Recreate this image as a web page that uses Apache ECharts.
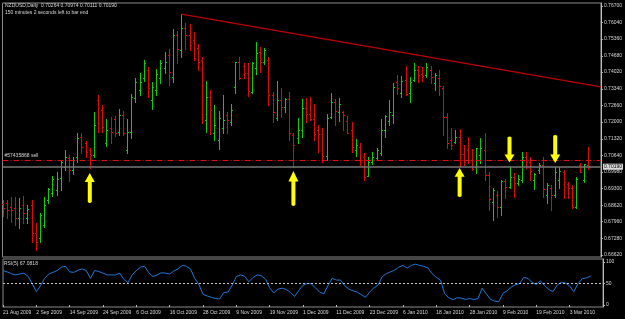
<!DOCTYPE html>
<html><head><meta charset="utf-8">
<script src="https://cdn.jsdelivr.net/npm/echarts@6/dist/echarts.min.js"></script>
<style>html,body{margin:0;padding:0;background:#000;}#c{width:625px;height:319px;}</style>
</head><body><div id="c"></div><script>
const symbolName = 'NZDUSD,Daily';
const timerText = '150 minutes 2 seconds left to bar end';
const dates = ['21 Aug 2009','24 Aug 2009','25 Aug 2009','26 Aug 2009','27 Aug 2009','28 Aug 2009','31 Aug 2009','1 Sep 2009','2 Sep 2009','3 Sep 2009',
'4 Sep 2009','7 Sep 2009','8 Sep 2009','9 Sep 2009','10 Sep 2009','11 Sep 2009','14 Sep 2009','15 Sep 2009','16 Sep 2009','17 Sep 2009',
'18 Sep 2009','21 Sep 2009','22 Sep 2009','23 Sep 2009','24 Sep 2009','25 Sep 2009','28 Sep 2009','29 Sep 2009','30 Sep 2009','1 Oct 2009',
'2 Oct 2009','5 Oct 2009','6 Oct 2009','7 Oct 2009','8 Oct 2009','9 Oct 2009','12 Oct 2009','13 Oct 2009','14 Oct 2009','15 Oct 2009',
'16 Oct 2009','19 Oct 2009','20 Oct 2009','21 Oct 2009','22 Oct 2009','23 Oct 2009','26 Oct 2009','27 Oct 2009','28 Oct 2009','29 Oct 2009',
'30 Oct 2009','2 Nov 2009','3 Nov 2009','4 Nov 2009','5 Nov 2009','6 Nov 2009','9 Nov 2009','10 Nov 2009','11 Nov 2009','12 Nov 2009',
'13 Nov 2009','16 Nov 2009','17 Nov 2009','18 Nov 2009','19 Nov 2009','20 Nov 2009','23 Nov 2009','24 Nov 2009','25 Nov 2009','26 Nov 2009',
'27 Nov 2009','30 Nov 2009','1 Dec 2009','2 Dec 2009','3 Dec 2009','4 Dec 2009','7 Dec 2009','8 Dec 2009','9 Dec 2009','10 Dec 2009',
'11 Dec 2009','14 Dec 2009','15 Dec 2009','16 Dec 2009','17 Dec 2009','18 Dec 2009','21 Dec 2009','22 Dec 2009','23 Dec 2009','24 Dec 2009',
'28 Dec 2009','29 Dec 2009','30 Dec 2009','31 Dec 2009','4 Jan 2010','5 Jan 2010','6 Jan 2010','7 Jan 2010','8 Jan 2010','11 Jan 2010',
'12 Jan 2010','13 Jan 2010','14 Jan 2010','15 Jan 2010','18 Jan 2010','19 Jan 2010','20 Jan 2010','21 Jan 2010','22 Jan 2010','25 Jan 2010',
'26 Jan 2010','27 Jan 2010','28 Jan 2010','29 Jan 2010','1 Feb 2010','2 Feb 2010','3 Feb 2010','4 Feb 2010','5 Feb 2010','8 Feb 2010',
'9 Feb 2010','10 Feb 2010','11 Feb 2010','12 Feb 2010','15 Feb 2010','16 Feb 2010','17 Feb 2010','18 Feb 2010','19 Feb 2010','22 Feb 2010',
'23 Feb 2010','24 Feb 2010','25 Feb 2010','26 Feb 2010','1 Mar 2010','2 Mar 2010','3 Mar 2010','4 Mar 2010','5 Mar 2010','8 Mar 2010',
'9 Mar 2010','10 Mar 2010'];
const futureSlots = ['', '', ''];
const opens = [0.6868,0.6872,0.6856,0.6852,0.6811,0.6864,0.6811,0.6864,0.6750,0.6730,
0.6783,0.6884,0.6912,0.6925,0.6973,0.7018,0.7054,0.7006,0.7058,0.7139,
0.7115,0.7087,0.7066,0.7289,0.7249,0.7115,0.7176,0.7212,0.7159,0.7228,
0.7087,0.7159,0.7297,0.7330,0.7378,0.7411,0.7289,0.7330,0.7378,0.7419,
0.7471,0.7382,0.7552,0.7492,0.7581,0.7552,0.7532,0.7500,0.7451,0.7208,
0.7301,0.7155,0.7127,0.7176,0.7228,0.7200,0.7342,0.7443,0.7427,0.7398,
0.7321,0.7419,0.7483,0.7443,0.7451,0.7309,0.7216,0.7289,0.7261,0.7293,
0.7147,0.7135,0.7167,0.7257,0.7232,0.7212,0.7167,0.7151,0.7062,0.7220,
0.7281,0.7240,0.7240,0.7204,0.7167,0.7087,0.7099,0.7058,0.6981,0.7038,
0.7054,0.7074,0.7167,0.7204,0.7228,0.7362,0.7317,0.7370,0.7317,0.7370,
0.7411,0.7394,0.7390,0.7411,0.7358,0.7378,0.7338,0.7220,0.7127,0.7119,
0.7139,0.7070,0.7087,0.7046,0.7018,0.7066,0.7087,0.6985,0.6876,0.6904,
0.6856,0.6961,0.6937,0.6977,0.6953,0.6965,0.7058,0.7038,0.6965,0.7006,
0.7026,0.6904,0.6933,0.6904,0.6965,0.6997,0.6949,0.6933,0.6856,0.7026,
0.6965,0.70264];
const highs = [0.6884,0.6884,0.6896,0.6896,0.6892,0.6900,0.6864,0.6884,0.6791,0.6831,
0.6896,0.6933,0.6981,0.6997,0.7046,0.7087,0.7066,0.7058,0.7155,0.7155,
0.7123,0.7095,0.7240,0.7309,0.7269,0.7212,0.7220,0.7224,0.7253,0.7244,
0.7212,0.7313,0.7378,0.7398,0.7451,0.7423,0.7362,0.7415,0.7451,0.7483,
0.7496,0.7577,0.7568,0.7637,0.7601,0.7597,0.7564,0.7516,0.7463,0.7366,
0.7330,0.7269,0.7244,0.7309,0.7240,0.7273,0.7443,0.7463,0.7439,0.7439,
0.7443,0.7524,0.7504,0.7500,0.7463,0.7321,0.7366,0.7338,0.7297,0.7321,
0.7155,0.7216,0.7293,0.7297,0.7301,0.7273,0.7188,0.7176,0.7232,0.7317,
0.7293,0.7297,0.7244,0.7224,0.7200,0.7131,0.7115,0.7074,0.7058,0.7078,
0.7095,0.7212,0.7228,0.7289,0.7358,0.7390,0.7386,0.7427,0.7382,0.7439,
0.7427,0.7423,0.7439,0.7427,0.7398,0.7411,0.7346,0.7236,0.7176,0.7167,
0.7172,0.7107,0.7139,0.7091,0.7095,0.7135,0.7155,0.6997,0.6933,0.6921,
0.6965,0.6969,0.7018,0.6993,0.6985,0.7078,0.7078,0.7058,0.6993,0.7034,
0.7058,0.6953,0.6945,0.7018,0.7018,0.7006,0.6957,0.6945,0.6977,0.7034,
0.7030,0.70974];
const lows = [0.6819,0.6811,0.6795,0.6783,0.6771,0.6791,0.6791,0.6714,0.6682,0.6714,
0.6775,0.6872,0.6900,0.6904,0.6925,0.7006,0.6961,0.6989,0.7038,0.7074,
0.7058,0.7014,0.7058,0.7159,0.7159,0.7103,0.7115,0.7143,0.7147,0.7147,
0.7074,0.7135,0.7281,0.7309,0.7366,0.7301,0.7253,0.7309,0.7358,0.7398,
0.7350,0.7362,0.7439,0.7463,0.7496,0.7492,0.7451,0.7411,0.7196,0.7159,
0.7151,0.7127,0.7091,0.7155,0.7155,0.7188,0.7317,0.7374,0.7378,0.7305,
0.7317,0.7394,0.7402,0.7435,0.7269,0.7200,0.7208,0.7220,0.7240,0.7127,
0.7018,0.7115,0.7139,0.7200,0.7208,0.7127,0.7078,0.7038,0.7046,0.7216,
0.7188,0.7204,0.7167,0.7155,0.7078,0.7062,0.7026,0.6965,0.6981,0.7030,
0.7046,0.7066,0.7139,0.7188,0.7196,0.7313,0.7301,0.7309,0.7281,0.7366,
0.7362,0.7366,0.7382,0.7358,0.7330,0.7309,0.7147,0.7095,0.7091,0.7115,
0.7018,0.7026,0.7034,0.7006,0.6993,0.7034,0.6965,0.6844,0.6803,0.6815,
0.6823,0.6892,0.6933,0.6896,0.6945,0.6957,0.7014,0.6965,0.6929,0.6993,
0.6896,0.6872,0.6844,0.6896,0.6933,0.6892,0.6892,0.6852,0.6852,0.6997,
0.6957,0.70111];
const closes = [0.6852,0.6844,0.6844,0.6811,0.6852,0.6831,0.6848,0.6750,0.6714,0.6823,
0.6864,0.6929,0.6969,0.6969,0.7038,0.7058,0.7006,0.7046,0.7135,0.7099,
0.7078,0.7066,0.7188,0.7196,0.7180,0.7167,0.7159,0.7155,0.7228,0.7155,
0.7159,0.7301,0.7362,0.7362,0.7439,0.7338,0.7342,0.7394,0.7439,0.7443,
0.7402,0.7552,0.7496,0.7581,0.7552,0.7512,0.7459,0.7443,0.7220,0.7301,
0.7249,0.7188,0.7216,0.7208,0.7208,0.7249,0.7443,0.7378,0.7398,0.7325,
0.7439,0.7479,0.7443,0.7492,0.7309,0.7240,0.7289,0.7261,0.7293,0.7155,
0.7107,0.7167,0.7257,0.7232,0.7212,0.7151,0.7151,0.7062,0.7216,0.7281,
0.7244,0.7273,0.7228,0.7155,0.7099,0.7107,0.7046,0.6977,0.7038,0.7058,
0.7087,0.7167,0.7224,0.7240,0.7342,0.7338,0.7366,0.7313,0.7362,0.7411,
0.7390,0.7386,0.7423,0.7382,0.7390,0.7346,0.7220,0.7115,0.7107,0.7139,
0.7070,0.7038,0.7046,0.7010,0.7095,0.7095,0.6985,0.6888,0.6925,0.6856,
0.6961,0.6937,0.6977,0.6953,0.6969,0.7058,0.7038,0.7001,0.6989,0.7026,
0.6929,0.6945,0.6904,0.6997,0.7001,0.6957,0.6933,0.6856,0.6969,0.6997,
0.7030,0.70190];
const rsi = [80,77,73,70,72,74,67,50,31,45,
62,72,76,80,88,90,77,76,81,84,
80,62,80,78,74,70,70,70,74,60,
52,70,80,88,90,75,66,70,75,74,
72,79,84,92,90,84,62,48,25,21,
18,15,14,29,30,46,66,70,67,54,
64,70,68,60,40,28,37,39,36,29,
20,34,46,50,49,40,30,26,45,62,
58,58,45,37,33,30,24,18,30,40,
46,66,73,77,81,88,92,86,92,95,
92,90,86,73,64,58,26,17,12,17,
16,13,15,13,15,39,26,13,9,8,
27,33,42,47,50,64,62,52,48,56,
45,36,31,46,53,51,44,31,50,61,
63,67.0818];
const priceTicks = [0.76700,0.76040,0.75360,0.74680,0.74020,0.73340,0.72660,0.72000,0.71320,0.70640,0.69980,0.69300,0.68620,0.67960,0.67280,0.66620];
const rsiTicks = [0, 50, 100];
const sellLevel = 0.70466;
const sellLabel = '#57435868 sell';
const trendIdx = [43, 144];
const trendPrice = [0.7637, 0.7342];
// arrows: [bar index, price at arrow centre, direction, length]
const arrows = [[21, 0.6933, 'up', 30], [70, 0.6931, 'up', 35], [110, 0.6955, 'up', 29], [122, 0.7089, 'down', 26], [133, 0.7091, 'down', 28]];

const UP = '#12c812', DOWN = '#dc0a0a', TXT = '#d8d8d8', FONT = 'Liberation Sans', FS = 5;
const last = dates.length - 1;
const bid = closes[last];
const cats = dates.concat(futureSlots);
const ohlc = dates.map((d, i) => [i, opens[i], closes[i], lows[i], highs[i]]);
const UPPATH = 'path://M5,0 L10,9 L7,9 L7,29 Q5,31 3,29 L3,9 L0,9 Z';
const DOWNPATH = 'path://M5,31 L10,22 L7,22 L7,2 Q5,0 3,2 L3,22 L0,22 Z';

function renderBar(params, api) {
  const i = api.value(0), o = api.value(1), c = api.value(2), l = api.value(3), h = api.value(4);
  const pt = api.coord([i, h]), pb = api.coord([i, l]), po = api.coord([i, o]), pc = api.coord([i, c]);
  const col = c >= o ? UP : DOWN;
  const x = Math.round(pt[0]) + 0.5;
  const yo = Math.round(po[1]) + 0.5, yc = Math.round(pc[1]) + 0.5;
  return { type: 'group', children: [
    { type: 'line', shape: { x1: x, y1: Math.round(pt[1]), x2: x, y2: Math.round(pb[1]) + 1 }, style: { stroke: col, lineWidth: 1 } },
    { type: 'line', shape: { x1: x - 1.5, y1: yo, x2: x, y2: yo }, style: { stroke: col, lineWidth: 1 } },
    { type: 'line', shape: { x1: x, y1: yc, x2: x + 1.5, y2: yc }, style: { stroke: col, lineWidth: 1 } }
  ]};
}

const chart = echarts.init(document.getElementById('c'), null, { renderer: 'canvas' });
chart.setOption({
  backgroundColor: '#000',
  animation: false,
  grid: [
    { left: 2.5, right: 22, top: 3, height: 254, show: true, borderColor: '#8a8a8a', borderWidth: 1 },
    { left: 2.5, right: 22, top: 259, height: 48, show: true, borderColor: '#8a8a8a', borderWidth: 1 }
  ],
  xAxis: [
    { type: 'category', gridIndex: 0, data: cats, boundaryGap: false, axisLine: { show: false }, axisTick: { show: false }, axisLabel: { show: false }, splitLine: { show: false } },
    { type: 'category', gridIndex: 1, data: cats, boundaryGap: false, axisLine: { show: false },
      axisTick: { show: true, interval: 7, length: 2, lineStyle: { color: '#bbbbbb' } },
      axisLabel: { interval: 7, align: 'left', fontSize: FS, color: TXT, margin: 3, fontFamily: FONT }, splitLine: { show: false } }
  ],
  yAxis: [
    { type: 'value', gridIndex: 0, position: 'right', min: 0.66532, max: 0.76818, scale: true,
      axisLine: { show: true, lineStyle: { color: '#bbbbbb' } },
      axisTick: { show: true, length: 2, customValues: priceTicks, lineStyle: { color: '#bbbbbb' } },
      axisLabel: { customValues: priceTicks, formatter: v => v.toFixed(5), fontSize: FS, color: TXT, margin: 3, fontFamily: FONT },
      splitLine: { show: false } },
    { type: 'value', gridIndex: 1, position: 'right', min: -4.65, max: 106.98,
      axisLine: { show: true, lineStyle: { color: '#bbbbbb' } },
      axisTick: { show: true, length: 2, customValues: rsiTicks, lineStyle: { color: '#bbbbbb' } },
      axisLabel: { customValues: rsiTicks, formatter: v => String(v), fontSize: FS, color: TXT, margin: 3, fontFamily: FONT },
      splitLine: { show: false } }
  ],
  series: [
    { type: 'custom', name: 'NZDUSD', xAxisIndex: 0, yAxisIndex: 0, data: ohlc, renderItem: renderBar,
      encode: { x: 0, y: [1, 2, 3, 4] }, clip: true, silent: true,
      markLine: { symbol: 'none', silent: true, animation: false, precision: 5, data: [
        { yAxis: sellLevel, lineStyle: { color: '#e01010', type: [6, 2, 1, 2], width: 1 },
          label: { show: true, position: 'insideStartTop', formatter: sellLabel, color: TXT, fontSize: FS, fontFamily: FONT, distance: 2 } },
        { yAxis: bid, lineStyle: { color: '#777777', type: 'solid', width: 1.5 },
          label: { show: true, position: 'end', formatter: bid.toFixed(5), backgroundColor: '#d8d8d8', color: '#000', fontSize: FS, fontFamily: FONT, padding: [1, 1, 0, 1], distance: 2 } },
        [ { coord: [trendIdx[0], trendPrice[0]], lineStyle: { color: '#c00000', type: 'solid', width: 1.2 }, label: { show: false } },
          { coord: [trendIdx[1], trendPrice[1]] } ]
      ] },
      markPoint: { silent: true, animation: false, label: { show: false },
        data: arrows.map(a => ({ coord: [a[0], a[1]], symbol: a[2] === 'up' ? UPPATH : DOWNPATH, symbolSize: [10, a[3]], itemStyle: { color: '#ffff00' } })) }
    },
    { type: 'line', name: 'RSI(5)', xAxisIndex: 1, yAxisIndex: 1, data: rsi, symbol: 'none', silent: true,
      lineStyle: { color: '#1f78d8', width: 1 },
      markLine: { symbol: 'none', silent: true, animation: false, label: { show: false },
        data: [ { yAxis: 50, lineStyle: { color: '#c8c8c8', type: [2, 2], width: 1 } } ] } }
  ],
  graphic: [
    { type: 'text', left: 5, top: 3, style: { text: symbolName + '  ' + [opens[last], highs[last], lows[last], closes[last]].map(v => v.toFixed(5)).join(' '), fill: TXT, font: FS + 'px ' + FONT } },
    { type: 'text', left: 5, top: 10, style: { text: timerText, fill: TXT, font: FS + 'px ' + FONT } },
    { type: 'text', left: 4, top: 261, style: { text: 'RSI(5) ' + rsi[last].toFixed(4), fill: TXT, font: FS + 'px ' + FONT } }
  ]
});
</script></body></html>
